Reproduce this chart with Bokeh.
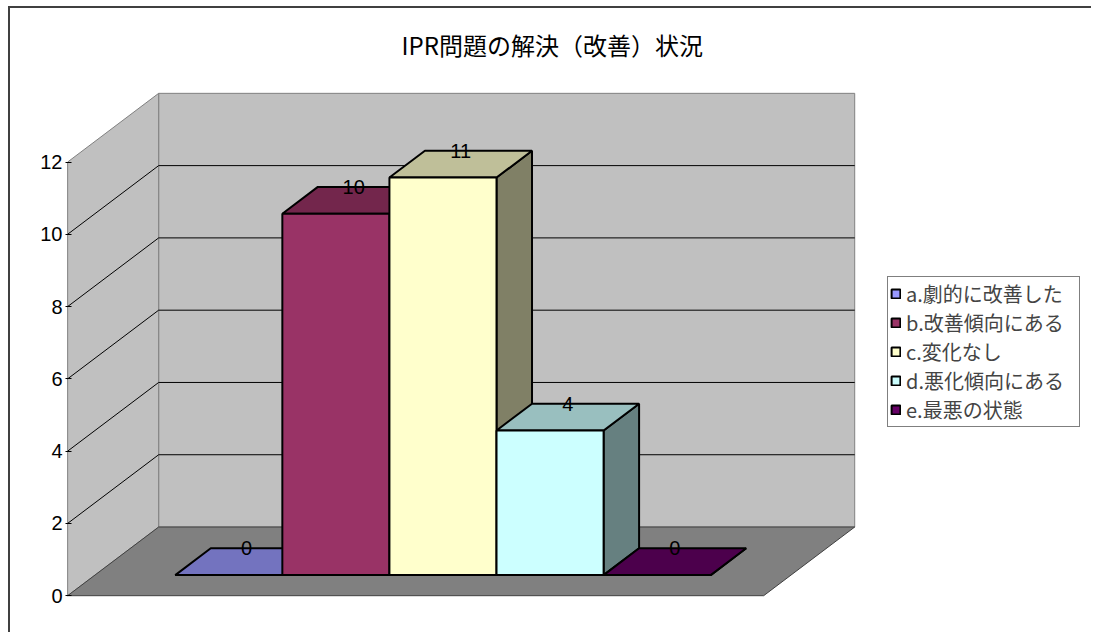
from bokeh.plotting import figure
from bokeh.models import Range1d, Legend, LegendItem, FixedTicker, ColumnDataSource
from bokeh.embed import file_html
from bokeh.resources import INLINE
from bokeh.core.properties import value

# ---------------- data ----------------
title_text = "IPR問題の解決（改善）状況"
categories = ["a.劇的に改善した", "b.改善傾向にある", "c.変化なし", "d.悪化傾向にある", "e.最悪の状態"]
counts = [0, 10, 11, 4, 0]
y_ticks = [0, 2, 4, 6, 8, 10, 12]

# ---------------- style ----------------
palette = ["#9999FF", "#993366", "#FFFFCC", "#CCFFFF", "#660066"]
WALL = "#C0C0C0"
WALL_EDGE = "#808080"
FLOOR = "#808080"
FLOOR_EDGE = "#404040"
JP = "Noto Sans CJK JP"
NUM = "Liberation Sans"

GAP = 0.75            # empty floor at each end, in bar widths
DX, DY = 0.85, 1.9    # oblique depth of the floor (x in bar widths, y in value units)
BAR_FRONT, BAR_BACK = 0.30, 0.69   # bar depth position as fractions of the floor depth
LEGEND_ROOM = 2.23    # extra room on the right of the scene for the legend (bar widths)
TOP_ROOM = 0.466      # empty room above the back wall (value units)

n = len(categories)
y_max = y_ticks[-1]
floor_w = n + 2 * GAP
bfx, bfy = BAR_FRONT * DX, BAR_FRONT * DY
bdx, bdy = (BAR_BACK - BAR_FRONT) * DX, (BAR_BACK - BAR_FRONT) * DY


def shade(hexc, f):
    r, g, b = (int(hexc[i:i + 2], 16) for i in (1, 3, 5))
    return "#%02X%02X%02X" % (round(r * f), round(g * f), round(b * f))


p = figure(
    width=1083, height=626,
    x_range=Range1d(-0.02, floor_w + DX + LEGEND_ROOM),
    y_range=Range1d(-0.05, y_max + DY + TOP_ROOM),
    x_axis_location=None,
    output_backend="svg", toolbar_location=None,
    min_border_left=55, min_border_right=0, min_border_top=68, min_border_bottom=37,
    outline_line_color=None, background_fill_color="white", border_fill_color="white",
)
p.margin = (6, 0, 0, 8)
p.styles = {"border-left": "2px solid #404040", "border-top": "2px solid #404040"}
p.xgrid.visible = False
p.ygrid.visible = False

# title
p.title.text = title_text
p.title.align = "left"
p.title.offset = 336
p.title.vertical_align = "bottom"
p.title.text_font = JP
p.title.text_font_size = "24px"
p.title.text_font_style = "normal"
p.title.text_color = "black"
p.title.standoff = 29

# y axis (front edge)
ax = p.yaxis[0]
ax.ticker = FixedTicker(ticks=y_ticks)
ax.axis_line_color = None
ax.major_tick_in = 6
ax.major_tick_out = 0
ax.major_tick_line_color = "black"
ax.minor_tick_line_color = None
ax.major_label_text_font = NUM
ax.major_label_text_font_size = "20px"
ax.major_label_text_color = "black"
ax.major_label_standoff = 3

# walls and floor
p.patch([DX, DX, floor_w + DX, floor_w + DX], [DY, y_max + DY, y_max + DY, DY],
        fill_color=WALL, line_color=WALL_EDGE, line_width=1)
p.patch([0, 0, DX, DX], [0, y_max, y_max + DY, DY],
        fill_color=WALL, line_color=WALL_EDGE, line_width=1)
p.patch([0, DX, floor_w + DX, floor_w], [0, DY, DY, 0],
        fill_color=FLOOR, line_color=FLOOR_EDGE, line_width=1)

# gridlines on back wall and side wall
inner = [t for t in y_ticks if 0 < t < y_max]
p.multi_line([[DX, floor_w + DX] for t in inner], [[t + DY, t + DY] for t in inner],
             line_color="black", line_width=1)
p.multi_line([[0, DX] for t in inner], [[t, t + DY] for t in inner],
             line_color="black", line_width=1)

# bars: side, top, front for each category, drawn left to right
xs, ys, fills = [], [], []
for i, v in enumerate(counts):
    x0 = GAP + i + bfx
    x1 = x0 + 1
    b = bfy
    xs.append([x1, x1 + bdx, x1 + bdx, x1]); ys.append([b, b + bdy, b + v + bdy, b + v])
    fills.append(shade(palette[i], 0.5))
    xs.append([x0, x0 + bdx, x1 + bdx, x1]); ys.append([b + v, b + v + bdy, b + v + bdy, b + v])
    fills.append(shade(palette[i], 0.75))
    xs.append([x0, x0, x1, x1]); ys.append([b, b + v, b + v, b])
    fills.append(palette[i])
bars = p.patches(xs="xs", ys="ys", fill_color="fc",
                 source=ColumnDataSource(dict(xs=xs, ys=ys, fc=fills)),
                 line_color="black", line_width=2)

# data labels on the back top edge of each bar
lab = ColumnDataSource(dict(
    x=[GAP + i + bfx + 0.5 + bdx / 2 for i in range(n)],
    y=[bfy + v + bdy for v in counts],
    t=[str(v) for v in counts],
))
p.text(x="x", y="y", text="t", source=lab, text_align="center", text_baseline="middle",
       text_font=value(NUM), text_font_size="20px", text_color="black")

# legend (front face of each bar as its swatch)
items = [LegendItem(label=c, renderers=[bars], index=3 * i + 2) for i, c in enumerate(categories)]
legend = Legend(items=items, location=(822, 170), orientation="vertical",
                glyph_width=11, glyph_height=11, label_standoff=5, label_width=171,
                label_text_font=JP, label_text_font_size="20px",
                label_height=20, spacing=0, padding=2, margin=0,
                border_line_color="black", border_line_width=1,
                background_fill_color="white", background_fill_alpha=1.0)
p.add_layout(legend, "center")

open("out.html", "w").write(file_html(p, INLINE))
